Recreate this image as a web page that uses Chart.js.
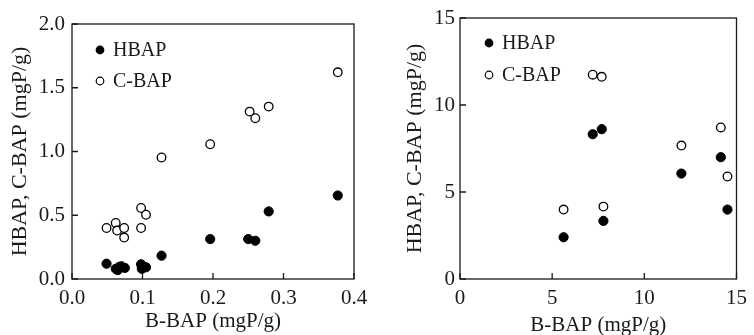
<!DOCTYPE html>
<html>
<head>
<meta charset="utf-8">
<script src="https://cdn.jsdelivr.net/npm/chart.js@4"></script>
<style>
  body { margin: 0; background: #fff; }
  #wrap { display: flex; width: 754px; height: 335px; }
  canvas { display: block; }
</style>
</head>
<body>
<div id="wrap">
  <canvas id="left" width="377" height="335"></canvas>
  <canvas id="right" width="377" height="335"></canvas>
</div>
<script>
// left panel: B-BAP 0..0.4
const leftHbapX = [0.049, 0.062, 0.065, 0.067, 0.070, 0.075, 0.098, 0.099, 0.105, 0.127, 0.196, 0.250, 0.260, 0.279, 0.377];
const leftHbapY = [0.12, 0.08, 0.07, 0.095, 0.10, 0.087, 0.115, 0.08, 0.092, 0.183, 0.313, 0.313, 0.300, 0.530, 0.655];
const leftCbapX = [0.049, 0.062, 0.064, 0.074, 0.074, 0.098, 0.098, 0.105, 0.127, 0.196, 0.252, 0.260, 0.279, 0.377];
const leftCbapY = [0.40, 0.44, 0.38, 0.40, 0.325, 0.557, 0.40, 0.504, 0.953, 1.057, 1.313, 1.261, 1.352, 1.621];
const leftXTicks = [0, 0.1, 0.2, 0.3, 0.4];
const leftYTicks = [0, 0.5, 1.0, 1.5, 2.0];

// right panel: B-BAP 0..15
const rightHbapX = [5.62, 7.20, 7.69, 7.78, 12.01, 14.15, 14.51];
const rightHbapY = [2.40, 8.32, 8.61, 3.34, 6.06, 7.00, 3.99];
const rightCbapX = [5.62, 7.20, 7.69, 7.78, 12.01, 14.15, 14.51];
const rightCbapY = [3.99, 11.74, 11.62, 4.16, 7.67, 8.71, 5.89];
const rightXTicks = [0, 5, 10, 15];
const rightYTicks = [0, 5, 10, 15];

const FONT = '"Liberation Serif", "Times New Roman", serif';
const INK = '#1a1a1a';

const zip = (xs, ys) => xs.map((x, i) => ({ x, y: ys[i] }));

// box around the plot + inward tick marks
const framePlugin = {
  id: 'frame',
  afterDraw(chart) {
    const { ctx, chartArea: a, scales } = chart;
    ctx.save();
    ctx.strokeStyle = INK;
    ctx.lineWidth = 1.3;
    ctx.strokeRect(a.left, a.top, a.right - a.left, a.bottom - a.top);
    ctx.beginPath();
    scales.x.ticks.forEach(t => {
      const px = scales.x.getPixelForValue(t.value);
      ctx.moveTo(px, a.bottom); ctx.lineTo(px, a.bottom - 6);
    });
    scales.y.ticks.forEach(t => {
      const py = scales.y.getPixelForValue(t.value);
      ctx.moveTo(a.left, py); ctx.lineTo(a.left + 6, py);
    });
    ctx.stroke();
    ctx.restore();
  }
};

// legend drawn inside the plot, top-left
const innerLegend = {
  id: 'innerLegend',
  afterDraw(chart, args, opts) {
    const { ctx, chartArea: a } = chart;
    ctx.save();
    ctx.font = '20px ' + FONT;
    ctx.textBaseline = 'middle';
    chart.data.datasets.forEach((ds, i) => {
      const mx = a.left + opts.dx;
      const my = a.top + opts.dy + i * opts.gap;
      ctx.beginPath();
      ctx.arc(mx, my, 3.8, 0, Math.PI * 2);
      ctx.fillStyle = ds.backgroundColor;
      ctx.fill();
      ctx.lineWidth = 1.2;
      ctx.strokeStyle = ds.borderColor;
      ctx.stroke();
      ctx.fillStyle = INK;
      ctx.fillText(ds.label, mx + 13, my + 1);
    });
    ctx.restore();
  }
};

function makeChart(id, cfg) {
  const tickCb = cfg.decimals ? v => Number(v).toFixed(cfg.decimals) : v => String(v);
  new Chart(document.getElementById(id), {
    type: 'scatter',
    data: {
      datasets: [
        { label: 'HBAP', data: cfg.hbap, backgroundColor: '#000', borderColor: '#000',
          pointRadius: 4.6, borderWidth: 1 },
        { label: 'C-BAP', data: cfg.cbap, backgroundColor: '#fff', borderColor: '#000',
          pointRadius: 4.3, borderWidth: 1.3 }
      ]
    },
    options: {
      responsive: false,
      animation: false,
      layout: { padding: { top: cfg.top, right: cfg.right, left: 0, bottom: 0 } },
      plugins: {
        legend: { display: false },
        tooltip: { enabled: false },
        innerLegend: { dx: cfg.legDx, dy: cfg.legDy, gap: cfg.legGap }
      },
      scales: {
        x: {
          type: 'linear', min: cfg.xTicks[0], max: cfg.xTicks[cfg.xTicks.length - 1],
          afterBuildTicks: s => { s.ticks = cfg.xTicks.map(v => ({ value: v })); },
          afterFit: s => { s.height = 335 - cfg.bottom; },
          grid: { display: false, drawTicks: false },
          border: { display: false },
          ticks: { color: INK, font: { family: FONT, size: 21 }, padding: 7, callback: tickCb,
                   maxRotation: 0, autoSkip: false },
          title: { display: true, text: 'B-BAP (mgP/g)', color: INK,
                   font: { family: FONT, size: 21 }, padding: { top: 0, bottom: cfg.xTitlePad } }
        },
        y: {
          type: 'linear', min: cfg.yTicks[0], max: cfg.yTicks[cfg.yTicks.length - 1],
          afterBuildTicks: s => { s.ticks = cfg.yTicks.map(v => ({ value: v })); },
          afterFit: s => { s.width = cfg.left; },
          grid: { display: false, drawTicks: false },
          border: { display: false },
          ticks: { color: INK, font: { family: FONT, size: 21 }, padding: cfg.yTickPad, callback: tickCb },
          title: { display: true, text: 'HBAP, C-BAP (mgP/g)', color: INK,
                   font: { family: FONT, size: 22 }, padding: { top: cfg.yTitlePad, bottom: 0 } }
        }
      }
    },
    plugins: [framePlugin, innerLegend]
  });
}

makeChart('left', {
  hbap: zip(leftHbapX, leftHbapY), cbap: zip(leftCbapX, leftCbapY),
  xTicks: leftXTicks, yTicks: leftYTicks, decimals: 1,
  left: 72, right: 23, top: 24, bottom: 279,
  yTickPad: 7, yTitlePad: 7, xTitlePad: 1, legDx: 28, legDy: 26, legGap: 31
});

makeChart('right', {
  hbap: zip(rightHbapX, rightHbapY), cbap: zip(rightCbapX, rightCbapY),
  xTicks: rightXTicks, yTicks: rightYTicks, decimals: 0,
  left: 83, right: 10, top: 18, bottom: 279,
  yTickPad: 5, yTitlePad: 25, xTitlePad: -3, legDx: 29, legDy: 25, legGap: 32
});
</script>
</body>
</html>
